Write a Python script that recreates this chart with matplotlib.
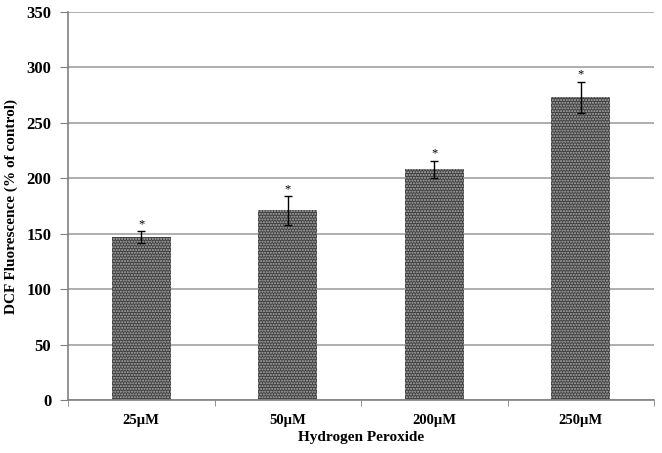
import matplotlib.pyplot as plt
import numpy as np

plt.rcParams['font.family'] = ['Liberation Serif', 'DejaVu Serif']
plt.rcParams['hatch.linewidth'] = 1.0

categories = ['25µM', '50µM', '200µM', '250µM']
values = [147, 171, 208, 273]
errors = [5, 13, 8, 14]
yticks = [0, 50, 100, 150, 200, 250, 300, 350]

fig = plt.figure(figsize=(6.62, 4.53), dpi=100)
ax = fig.add_axes([68 / 662, 53 / 453, 586 / 662, 388 / 453])

x = np.arange(len(categories))
ax.bar(x, values, width=0.4, color='#3f3f3f', edgecolor='#b0b0b0',
       hatch='......', linewidth=0, zorder=2)
ax.errorbar(x, values, yerr=errors, fmt='none', ecolor='black',
            elinewidth=1, capsize=3, capthick=1, zorder=3)
for xi, v, e in zip(x, values, errors):
    ax.text(xi, v + e + 1, '*', ha='center', va='bottom', fontsize=9)

ax.set_xlim(-0.5, len(categories) - 0.5)
ax.set_ylim(0, 350)
ax.set_yticks(yticks)
ax.yaxis.grid(True, color='#a8a8a8', linewidth=1.3, zorder=0)
ax.set_axisbelow(True)

ax.set_xticks(x)
ax.set_xticklabels(categories, fontsize=10.5, fontweight='bold')
ax.set_xticks(np.arange(len(categories) + 1) - 0.5, minor=True)
ax.tick_params(axis='x', which='major', length=0, pad=10)
ax.tick_params(axis='x', which='minor', length=4, color='#808080', direction='out')
ax.tick_params(axis='y', length=6, color='#808080', labelsize=12, pad=6)
for lbl in ax.get_yticklabels():
    lbl.set_fontweight('bold')

for s in ['top', 'right']:
    ax.spines[s].set_visible(False)
for s in ['left', 'bottom']:
    ax.spines[s].set_color('#808080')
    ax.spines[s].set_linewidth(1.2)

ax.set_xlabel('Hydrogen Peroxide', fontsize=11, fontweight='bold', labelpad=3)
ax.set_ylabel('DCF Fluorescence (% of control)', fontsize=11, fontweight='bold', labelpad=6)

fig.savefig('out.png', dpi=100)
